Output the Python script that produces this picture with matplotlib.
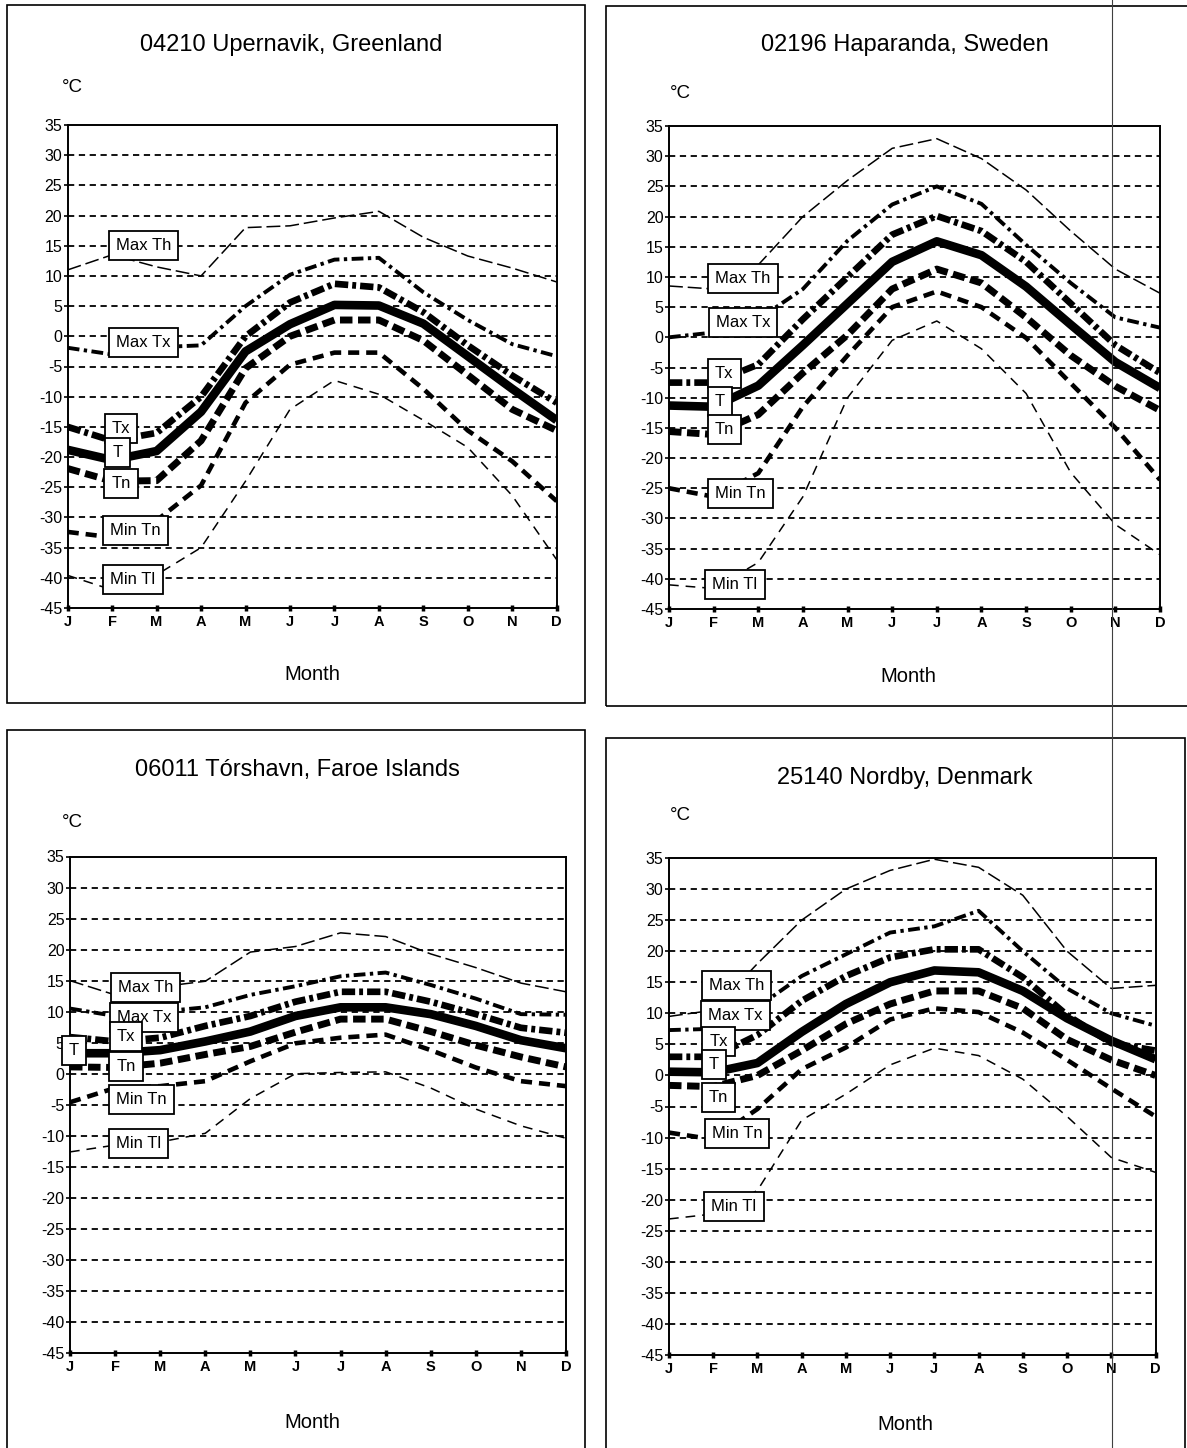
import matplotlib
matplotlib.use('Agg')
import matplotlib.pyplot as plt
from matplotlib.patches import Rectangle
from matplotlib.lines import Line2D

plt.rcParams['font.family'] = ['Liberation Sans', 'DejaVu Sans']
plt.rcParams['lines.scale_dashes'] = False

W, H = 1187, 1448

# ---------------- data ----------------
months = ['J', 'F', 'M', 'A', 'M', 'J', 'J', 'A', 'S', 'O', 'N', 'D']
series_names = ['Max Th', 'Max Tx', 'Tx', 'T', 'Tn', 'Min Tn', 'Min Tl']
y_ticks = [35, 30, 25, 20, 15, 10, 5, 0, -5, -10, -15, -20, -25, -30, -35, -40, -45]

titles = ['04210 Upernavik, Greenland', '02196 Haparanda, Sweden',
          '06011 Tórshavn, Faroe Islands', '25140 Nordby, Denmark']

upernavik_max_th = [11, 13.5, 11.5, 10, 18, 18.3, 19.6, 20.7, 16.4, 13.3, 11.3, 9]
upernavik_max_tx = [-1.9, -3, -1.8, -1.5, 5, 10.2, 12.7, 13, 7.3, 2.7, -1.3, -3.3]
upernavik_tx = [-15, -17.3, -16, -10, 0, 5.6, 8.7, 8.1, 4, -1.5, -6.5, -11]
upernavik_t = [-18.8, -20.5, -19, -12.5, -2.5, 2, 5.2, 5.1, 2.1, -3.3, -8.7, -13.9]
upernavik_tn = [-21.9, -24, -23.9, -17.3, -5.3, 0, 2.7, 2.7, -0.7, -6.4, -12.1, -15.6]
upernavik_min_tn = [-32.4, -33.3, -30.5, -24.7, -11, -4.7, -2.7, -2.7, -8.7, -15.6, -20.7, -27.3]
upernavik_min_tl = [-39.6, -42, -39.5, -35, -24, -12.1, -7.3, -9.6, -13.9, -18.4, -26.4, -37]

haparanda_max_th = [8.5, 8, 12, 20, 26, 31.3, 32.9, 29.6, 24.4, 17.6, 11.3, 7.3]
haparanda_max_tx = [0, 0.8, 3, 8, 16, 22, 25, 22.1, 15.3, 9, 3.3, 1.6]
haparanda_tx = [-7.5, -7.5, -4.5, 3, 10, 17, 20.1, 17.6, 12.5, 5.6, -1.3, -5.9]
haparanda_t = [-11.3, -11.5, -8, -1.3, 5.6, 12.5, 15.9, 13.6, 8.4, 2.1, -4.1, -8.4]
haparanda_tn = [-15.6, -16.1, -12.8, -5.9, 0.4, 8, 11.3, 9, 3.3, -3, -8.1, -12.1]
haparanda_min_tn = [-25, -26.4, -22.5, -11.5, -3, 5, 7.6, 5, -0.1, -7.6, -15, -23.6]
haparanda_min_tl = [-41, -41.6, -37.3, -26.4, -10, -0.5, 2.7, -1.9, -9.3, -22.4, -31, -36]

torshavn_max_th = [15, 12.7, 14, 14.9, 19.6, 20.5, 22.7, 22.1, 19.3, 17.1, 14.6, 13.2]
torshavn_max_tx = [10.5, 9.3, 10, 10.7, 12.7, 14.1, 15.7, 16.3, 14.3, 12.1, 9.6, 9.5]
torshavn_tx = [5.9, 5.2, 5.8, 7.7, 9.3, 11.6, 13.2, 13.2, 11.6, 9.6, 7.4, 6.6]
torshavn_t = [3.3, 3.3, 3.8, 5.2, 6.8, 9.3, 10.7, 10.7, 9.6, 7.7, 5.4, 4.1]
torshavn_tn = [1.1, 1.0, 1.7, 3.1, 4.4, 6.7, 8.8, 8.8, 6.8, 4.6, 2.7, 1.1]
torshavn_min_tn = [-4.6, -2.3, -2, -1.2, 2, 4.9, 5.8, 6.3, 3.8, 1, -1.2, -2]
torshavn_min_tl = [-12.6, -11.5, -11, -9.6, -4, 0, 0.2, 0.3, -2.3, -5.7, -8.4, -10.4]

nordby_max_th = [9.5, 10.5, 18, 25, 30, 33, 34.8, 33.5, 29, 20, 14, 14.5]
nordby_max_tx = [7.3, 7.5, 11, 16, 19.5, 23, 24, 26.5, 20, 14, 10, 8]
nordby_tx = [3, 3, 6.5, 12, 16, 19, 20.3, 20.3, 15.8, 9.7, 5.2, 4]
nordby_t = [0.6, 0.5, 2, 7, 11.5, 15, 16.9, 16.6, 13.6, 9.2, 5.6, 2.6]
nordby_tn = [-1.6, -1.8, 0, 4, 8.3, 11.5, 13.6, 13.6, 10.8, 5.8, 2.5, 0]
nordby_min_tn = [-9.2, -10.3, -5.4, 1, 4.5, 9, 10.8, 10.2, 6.9, 2.5, -2.1, -6.6]
nordby_min_tl = [-23.1, -22.3, -18.5, -7.2, -3, 1.7, 4.4, 3.2, -0.6, -6.6, -13.2, -15.6]

stations = [
    [upernavik_max_th, upernavik_max_tx, upernavik_tx, upernavik_t, upernavik_tn, upernavik_min_tn, upernavik_min_tl],
    [haparanda_max_th, haparanda_max_tx, haparanda_tx, haparanda_t, haparanda_tn, haparanda_min_tn, haparanda_min_tl],
    [torshavn_max_th, torshavn_max_tx, torshavn_tx, torshavn_t, torshavn_tn, torshavn_min_tn, torshavn_min_tl],
    [nordby_max_th, nordby_max_tx, nordby_tx, nordby_t, nordby_tn, nordby_min_tn, nordby_min_tl],
]

# ---------------- layout / styles ----------------
# label box centres (month index, value) per panel, same order as series_names
label_pos = [
    [(1.71, 15.1), (1.71, -1.1), (1.20, -15.2), (1.12, -19.2), (1.20, -24.4), (1.53, -32.2), (1.47, -40.2)],
    [(1.66, 9.8), (1.66, 2.5), (1.24, -6.0), (1.14, -10.7), (1.24, -15.2), (1.60, -25.8), (1.48, -40.9)],
    [(1.67, 13.9), (1.64, 9.0), (1.24, 6.0), (0.09, 3.7), (1.24, 1.2), (1.58, -4.1), (1.52, -11.3)],
    [(1.52, 14.5), (1.50, 9.6), (1.12, 5.4), (1.01, 1.7), (1.12, -3.5), (1.54, -9.3), (1.47, -21.1)],
]

styles = {
    'Max Th': dict(lw=1.1, dashes=(10, 3.5)),
    'Max Tx': dict(lw=2.8, dashes=(8.5, 3.2, 2.4, 3.2)),
    'Tx': dict(lw=4.8, dashes=(9.6, 2.9, 2.8, 2.9)),
    'T': dict(lw=6.2, dashes=None),
    'Tn': dict(lw=5.0, dashes=(9.0, 4.0)),
    'Min Tn': dict(lw=3.3, dashes=(8.0, 5.0)),
    'Min Tl': dict(lw=1.1, dashes=(7.0, 5.0)),
}

# axes rectangles in pixels: x0, x1, ytop, ybottom
ax_px = [(67.7, 556.7, 125, 608), (669, 1160, 126, 609),
         (70, 566, 856.5, 1353), (669, 1155.5, 858, 1355)]
# panel frames in pixels: x0, y0, x1, y1
frame_px = [(7, 5, 585, 703), (606, 6, 1192, 706), (7, 730, 585, 1452), (606, 738, 1185, 1452)]
title_px = [(291, 45), (905, 45), (297, 770), (905, 778)]
degc_px = [(72, 87), (680, 93), (72, 823), (680, 815)]
month_px = [(312, 675), (908, 676), (312, 1423), (905, 1424)]

fig = plt.figure(figsize=(W / 100, H / 100), dpi=100)
fig.patch.set_facecolor('white')


def fx(x):
    return x / W


def fy(y):
    return 1 - y / H


for i in range(4):
    x0, y0, x1, y1 = frame_px[i]
    fig.patches.append(Rectangle((fx(x0), fy(y1)), fx(x1 - x0), (y1 - y0) / H,
                                 transform=fig.transFigure, fill=False,
                                 edgecolor='black', lw=1.2, zorder=0))
    fig.text(fx(title_px[i][0]), fy(title_px[i][1]), titles[i], ha='center', va='center',
             fontsize=17)
    fig.text(fx(degc_px[i][0]), fy(degc_px[i][1]), '°C', ha='center', va='center',
             fontsize=13.5)
    fig.text(fx(month_px[i][0]), fy(month_px[i][1]), 'Month', ha='center', va='center',
             fontsize=14.5)

    ax0, ax1, at, ab = ax_px[i]
    ax = fig.add_axes([fx(ax0), fy(ab), fx(ax1 - ax0), (ab - at) / H])
    ax.set_xlim(0, 11)
    ax.set_ylim(-45, 35)
    ax.set_facecolor('white')
    for s in ax.spines.values():
        s.set_linewidth(1.4)
        s.set_color('black')
    for v in y_ticks:
        if -45 < v < 35:
            ax.axhline(v, color='black', lw=1.3, dashes=(4.5, 3.3), zorder=1)
    ax.set_yticks(y_ticks)
    ax.set_yticklabels([str(v) for v in y_ticks], fontsize=11.5)
    ax.set_xticks(range(12))
    ax.set_xticklabels(months, fontsize=10.5, fontweight='bold')
    ax.tick_params(axis='y', direction='out', length=3, width=1.2, pad=1)
    ax.tick_params(axis='x', direction='inout', length=4, width=2.5, pad=3)

    xs = list(range(12))
    for name, vals in zip(series_names, stations[i]):
        st = styles[name]
        line, = ax.plot(xs, vals, color='black', lw=st['lw'], zorder=3,
                        solid_capstyle='butt', dash_capstyle='butt')
        if st['dashes'] is not None:
            line.set_dashes(st['dashes'])

    for name, (mx, my) in zip(series_names, label_pos[i]):
        ax.text(mx, my, name, ha='center', va='center', fontsize=12, zorder=6,
                bbox=dict(boxstyle='square,pad=0.42', facecolor='white',
                          edgecolor='black', lw=1.3))

# scan artefact: thin vertical line at right
fig.lines.append(Line2D([fx(1112), fx(1112)], [0, 1], transform=fig.transFigure,
                        color='0.25', lw=0.8, zorder=10))

fig.savefig('out.png', dpi=100)
